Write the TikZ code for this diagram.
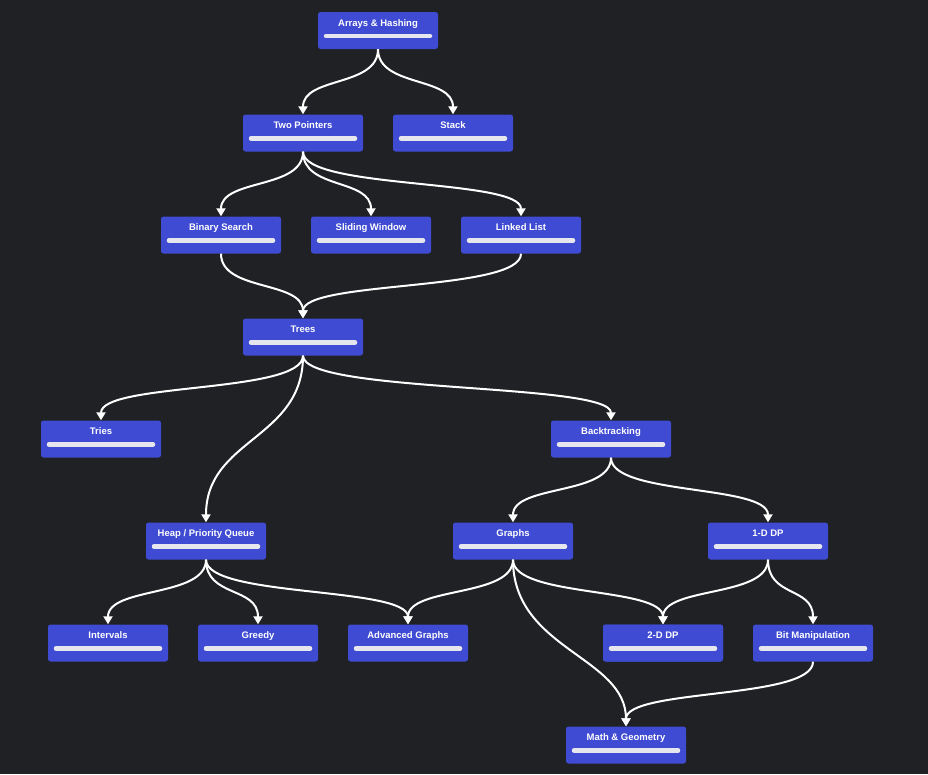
\documentclass[tikz,border=0pt]{standalone}
\usepackage{fontspec}
\setmainfont{Liberation Sans}
\usetikzlibrary{calc,arrows.meta}
\definecolor{bgc}{HTML}{202124}
\definecolor{boxc}{HTML}{3F4BD2}
\definecolor{barc}{HTML}{E6E6EE}
\tikzset{
  topic/.style={fill=boxc, rounded corners=2.5pt, minimum width=120pt, inner xsep=2pt, inner ysep=4pt,
    text height=10pt, text depth=19pt, text=white, font=\bfseries\fontsize{9.5}{10}\selectfont,
    path picture={\draw[barc, line width=4.5pt, line cap=round]
      ([xshift=8pt,yshift=13pt]path picture bounding box.south west) --
      ([xshift=-8pt,yshift=13pt]path picture bounding box.south east);}},
  link/.style={white, line width=2pt, -{Triangle[length=8pt,width=9pt]}}
}
\newcommand\lnk[3][38]{\draw[link] (#2.south) .. controls ($(#2.south)+(0,-#1)$) and ($(#3.north)+(0,#1)$) .. (#3.north);}
\begin{document}
\begin{tikzpicture}[x=1pt,y=1pt]
\fill[bgc] (0,0) rectangle (928,-774);
\useasboundingbox (0,0) rectangle (928,-774);
\path
 (378,-30.5) coordinate (p1) (303,-133) coordinate (p2) (453,-133) coordinate (p3)
 (221,-235) coordinate (p4) (371,-235) coordinate (p5) (521,-235) coordinate (p6)
 (303,-337) coordinate (p7) (101,-439) coordinate (p8) (611,-439) coordinate (p9)
 (206,-541) coordinate (p10) (513,-541) coordinate (p11) (768,-541) coordinate (p12)
 (108,-643) coordinate (p13) (258,-643) coordinate (p14) (408,-643) coordinate (p15)
 (663,-643) coordinate (p16) (813,-643) coordinate (p17) (626,-745) coordinate (p18);
% edges first (drawn under nodes)
\begin{scope}
\node[topic, opacity=0] (ah0) at (p1) {};
\end{scope}
\node[topic] (ah) at (p1) {Arrays \& Hashing};
\node[topic] (tp) at (p2) {Two Pointers};
\node[topic] (st) at (p3) {Stack};
\node[topic] (bs) at (p4) {Binary Search};
\node[topic] (sw) at (p5) {Sliding Window};
\node[topic] (ll) at (p6) {Linked List};
\node[topic] (tr) at (p7) {Trees};
\node[topic] (ti) at (p8) {Tries};
\node[topic] (bt) at (p9) {Backtracking};
\node[topic] (hp) at (p10) {Heap / Priority Queue};
\node[topic] (gr) at (p11) {Graphs};
\node[topic] (d1) at (p12) {1-D DP};
\node[topic] (iv) at (p13) {Intervals};
\node[topic] (gd) at (p14) {Greedy};
\node[topic] (ag) at (p15) {Advanced Graphs};
\node[topic] (d2) at (p16) {2-D DP};
\node[topic] (bm) at (p17) {Bit Manipulation};
\node[topic] (mg) at (p18) {Math \& Geometry};
\begin{scope}[on background layer/.try]
\end{scope}
\lnk{ah}{tp}\lnk{ah}{st}
\lnk{tp}{bs}\lnk{tp}{sw}\lnk{tp}{ll}
\lnk{bs}{tr}\lnk{ll}{tr}
\lnk{tr}{ti}\lnk[84]{tr}{hp}\lnk{tr}{bt}
\lnk{bt}{gr}\lnk{bt}{d1}
\lnk{hp}{iv}\lnk{hp}{gd}\lnk{hp}{ag}
\lnk{gr}{ag}\lnk{gr}{d2}\lnk{d1}{d2}\lnk{d1}{bm}
\lnk{bm}{mg}
% Graphs -> Math passes behind 2-D DP
\draw[link] (gr.south) .. controls ($(gr.south)+(0,-90)$) and ($(mg.north)+(0,70)$) .. (mg.north);
\node[topic] at (p16) {2-D DP};
\end{tikzpicture}
\end{document}
